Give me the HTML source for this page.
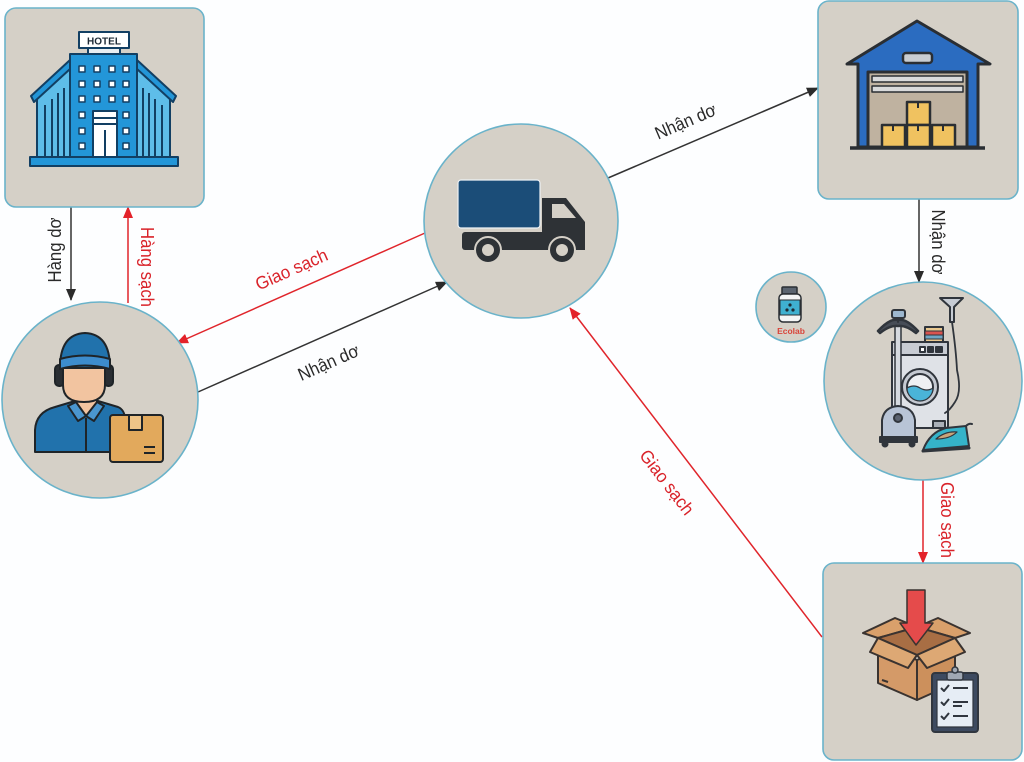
<!DOCTYPE html>
<html><head><meta charset="utf-8"><style>
html,body{margin:0;padding:0;background:#fdfeff;}
svg{display:block}
text{font-family:"Liberation Sans",Arial,sans-serif;}
</style></head><body>
<svg width="1024" height="762" viewBox="0 0 1024 762" xmlns="http://www.w3.org/2000/svg">
<defs>
<marker id="ab" markerWidth="12" markerHeight="10" refX="11" refY="5" orient="auto" markerUnits="userSpaceOnUse"><path d="M0,0 L12,5 L0,10 Z" fill="#2b2b2b"/></marker>
<marker id="ar" markerWidth="12" markerHeight="10" refX="11" refY="5" orient="auto" markerUnits="userSpaceOnUse"><path d="M0,0 L12,5 L0,10 Z" fill="#e3222a"/></marker>
</defs>
<rect width="1024" height="762" fill="#fdfeff"/>

<!-- connectors -->
<g fill="none" stroke-width="1.5">
<line x1="71" y1="207" x2="71" y2="300" stroke="#333" marker-end="url(#ab)"/>
<line x1="128" y1="303" x2="128" y2="207" stroke="#e0252b" marker-end="url(#ar)"/>
<line x1="425" y1="233" x2="177" y2="343" stroke="#e0252b" marker-end="url(#ar)"/>
<line x1="198" y1="392" x2="447" y2="282" stroke="#333" marker-end="url(#ab)"/>
<line x1="608" y1="178" x2="818" y2="88" stroke="#333" marker-end="url(#ab)"/>
<line x1="919" y1="199" x2="919" y2="282" stroke="#333" marker-end="url(#ab)"/>
<line x1="923" y1="480" x2="923" y2="563" stroke="#e0252b" marker-end="url(#ar)"/>
<line x1="822" y1="637" x2="570" y2="308" stroke="#e0252b" marker-end="url(#ar)"/>
</g>

<!-- labels -->
<g font-size="18" text-anchor="middle">
<text transform="translate(61,250) rotate(-90)" fill="#2a2a2a" textLength="65" lengthAdjust="spacingAndGlyphs">Hàng dơ</text>
<text transform="translate(141,267) rotate(90)" fill="#d9232a" textLength="80" lengthAdjust="spacingAndGlyphs">Hàng sạch</text>
<text transform="translate(294,275) rotate(-23.9)" fill="#d9232a" textLength="77" lengthAdjust="spacingAndGlyphs">Giao sạch</text>
<text transform="translate(331,368) rotate(-23.7)" fill="#2a2a2a" textLength="65" lengthAdjust="spacingAndGlyphs">Nhận dơ</text>
<text transform="translate(688,127) rotate(-23.2)" fill="#2a2a2a" textLength="65" lengthAdjust="spacingAndGlyphs">Nhận dơ</text>
<text transform="translate(932,242) rotate(90)" fill="#2a2a2a" textLength="65" lengthAdjust="spacingAndGlyphs">Nhận dơ</text>
<text transform="translate(941,520) rotate(90)" fill="#d9232a" textLength="76" lengthAdjust="spacingAndGlyphs">Giao sạch</text>
<text transform="translate(662,486) rotate(52.5)" fill="#d9232a" textLength="77" lengthAdjust="spacingAndGlyphs">Giao sạch</text>
</g>

<!-- nodes -->
<g fill="#d5d0c7" stroke="#6ab3ca" stroke-width="1.6">
<rect x="5" y="8" width="199" height="199" rx="11"/>
<rect x="818" y="1" width="200" height="198" rx="11"/>
<rect x="823" y="563" width="199" height="197" rx="11"/>
<circle cx="100" cy="400" r="98"/>
<circle cx="521" cy="221" r="97"/>
<circle cx="923" cy="381" r="99"/>
<circle cx="791" cy="307" r="35"/>
</g>

<!-- HOTEL icon -->
<g stroke="#123f63" stroke-width="2" stroke-linejoin="round">
<polygon points="70,66 37,97 37,158 70,158" fill="#5ebde9"/>
<polygon points="137,66 170,97 170,158 137,158" fill="#5ebde9"/>
<polygon points="70,60 31,96 34,102 70,69" fill="#2396d8"/>
<polygon points="137,60 176,96 173,102 137,69" fill="#2396d8"/>
<g stroke-width="2">
<line x1="45" y1="105" x2="45" y2="156"/><line x1="52" y1="99" x2="52" y2="156"/><line x1="58" y1="93" x2="58" y2="156"/><line x1="64" y1="88" x2="64" y2="156"/>
<line x1="162" y1="105" x2="162" y2="156"/><line x1="155" y1="99" x2="155" y2="156"/><line x1="149" y1="93" x2="149" y2="156"/><line x1="143" y1="88" x2="143" y2="156"/>
</g>
<rect x="70" y="54" width="67" height="104" fill="#2396d8"/>
<g fill="#fff" stroke-width="1.5">
<rect x="79" y="66" width="6" height="6"/><rect x="94" y="66" width="6" height="6"/><rect x="109" y="66" width="6" height="6"/><rect x="123" y="66" width="6" height="6"/>
<rect x="79" y="81" width="6" height="6"/><rect x="94" y="81" width="6" height="6"/><rect x="109" y="81" width="6" height="6"/><rect x="123" y="81" width="6" height="6"/>
<rect x="79" y="96" width="6" height="6"/><rect x="94" y="96" width="6" height="6"/><rect x="109" y="96" width="6" height="6"/><rect x="123" y="96" width="6" height="6"/>
<rect x="79" y="112" width="6" height="6"/><rect x="123" y="112" width="6" height="6"/>
<rect x="79" y="128" width="6" height="6"/><rect x="123" y="128" width="6" height="6"/>
<rect x="79" y="143" width="6" height="6"/><rect x="123" y="143" width="6" height="6"/>
</g>
<rect x="93" y="111" width="24" height="47" fill="#fff"/>
<line x1="93" y1="118" x2="117" y2="118"/>
<line x1="93" y1="124" x2="117" y2="124"/>
<line x1="105" y1="130" x2="105" y2="158"/>
<rect x="30" y="157" width="148" height="9" fill="#2396d8"/>
<rect x="88" y="47" width="32" height="7" fill="#e8eef2"/>
<rect x="79" y="32" width="50" height="16" fill="#fff"/>
</g>
<text x="104" y="44.5" font-size="10" font-weight="bold" text-anchor="middle" fill="#1d2a36">HOTEL</text>

<!-- WORKER icon -->
<g stroke="#1f2428" stroke-width="2" stroke-linejoin="round">
<path d="M35,452 L35,430 Q36,412 55,407 L75,401 L98,401 L118,407 Q125,410 125,420 L125,452 Z" fill="#2172ac"/>
<path d="M76,397 L76,405 L86,416 L97,405 L97,397 Z" fill="#f2c4a0"/>
<path d="M68,406 L76,402 L86,416 L78,421 Z" fill="#4a96cf"/>
<path d="M104,406 L97,402 L86,416 L94,421 Z" fill="#4a96cf"/>
<line x1="86" y1="418" x2="86" y2="451"/>
<rect x="55" y="365" width="9" height="21" rx="4" fill="#2a2e33"/>
<rect x="104" y="365" width="9" height="21" rx="4" fill="#2a2e33"/>
<path d="M63,368 L105,368 L105,385 Q105,402 84,402 Q63,402 63,385 Z" fill="#f2c4a0"/>
<path d="M60,368 Q60,334 85,333 Q110,334 110,368 Z" fill="#2172ac"/>
<path d="M60,359 Q85,352 110,359 L110,369 Q85,362 60,369 Z" fill="#3d8ccc"/>
<rect x="110" y="415" width="53" height="47" rx="3" fill="#e2a95c"/>
<rect x="129" y="415" width="13" height="15" fill="#eec488"/>
<line x1="144" y1="447" x2="155" y2="447"/>
<line x1="144" y1="453" x2="155" y2="453"/>
</g>

<!-- TRUCK icon -->
<g>
<rect x="458" y="180" width="82" height="48" rx="3" fill="#1b4d78" stroke="#eef2f5" stroke-width="1.2"/>
<path d="M542,198 L566,198 L585,222 L585,250 L542,250 Z" fill="#2e3236"/>
<polygon points="552,204 564,204 576,218 552,218" fill="#d5d0c7"/>
<rect x="462" y="232" width="123" height="18" rx="3" fill="#2e3236"/>
<circle cx="488" cy="250" r="13" fill="#2e3236" stroke="#d5d0c7" stroke-width="2"/>
<circle cx="488" cy="250" r="6" fill="#d5d0c7"/>
<circle cx="562" cy="250" r="13" fill="#2e3236" stroke="#d5d0c7" stroke-width="2"/>
<circle cx="562" cy="250" r="6" fill="#d5d0c7"/>
</g>

<!-- WAREHOUSE icon -->
<g stroke="#2a2e33" stroke-width="3" stroke-linejoin="round">
<polygon points="847,64 917,21 990,64 978,64 978,147 858,147 858,64" fill="#2b6cc0"/>
<rect x="868" y="72" width="99" height="75" fill="#bfb2a0"/>
<rect x="872" y="76" width="91" height="6" fill="#d9dadb" stroke-width="1.5"/>
<rect x="872" y="86" width="91" height="6" fill="#d9dadb" stroke-width="1.5"/>
<rect x="903" y="53" width="29" height="10" rx="3" fill="#c8cdd2" stroke-width="2.5"/>
<g fill="#f0c260" stroke-width="2.5">
<rect x="907" y="102" width="23" height="23"/>
<rect x="882" y="125" width="23" height="22"/>
<rect x="907" y="125" width="23" height="22"/>
<rect x="932" y="125" width="23" height="22"/>
</g>
<g stroke-width="2"><line x1="918" y1="102" x2="918" y2="108"/><line x1="893" y1="125" x2="893" y2="131"/><line x1="918" y1="125" x2="918" y2="131"/><line x1="943" y1="125" x2="943" y2="131"/></g>
<line x1="850" y1="148" x2="985" y2="148" stroke-width="3.5"/>
</g>

<!-- ECOLAB -->
<g stroke="#2a2e33" stroke-width="1.5">
<rect x="782" y="287" width="15" height="7" rx="1" fill="#5b6470"/>
<rect x="779" y="294" width="22" height="28" rx="4" fill="#f4f5f6"/>
<rect x="780" y="300" width="20" height="15" fill="#3fb0d0" stroke-width="1"/>
</g>
<g fill="#1f2a33"><circle cx="790" cy="305" r="1.6"/><circle cx="787" cy="310" r="1.6"/><circle cx="793" cy="310" r="1.6"/></g>
<text x="791" y="334" font-size="8.5" font-weight="bold" text-anchor="middle" fill="#d9443a">Ecolab</text>

<!-- LAUNDRY icon -->
<g stroke="#30353c" stroke-width="2" stroke-linejoin="round" stroke-linecap="round">
<path d="M940,298 L963,298 L954,307 L954,322 L950,322 L950,307 Z" fill="#c7ccd4"/>
<rect x="892" y="342" width="56" height="86" rx="2" fill="#dfe2e7"/>
<rect x="892" y="342" width="56" height="13" fill="#c8ccd3"/>
<rect x="920" y="347" width="5" height="5" fill="#fff"/><rect x="928" y="347" width="5" height="5" fill="#30353c"/><rect x="936" y="347" width="6" height="5" fill="#30353c"/>
<rect x="925" y="327" width="18" height="15" fill="#e9c88f"/>
<rect x="925" y="331" width="18" height="4" fill="#d9534f" stroke-width="1"/>
<rect x="925" y="335" width="18" height="4" fill="#6fa6c4" stroke-width="1"/>
<circle cx="920" cy="387" r="18" fill="#c5cad2"/>
<circle cx="920" cy="387" r="13" fill="#eef0f3"/>
<path d="M907,388 Q914,384 920,388 Q927,392 933,388 A13,13 0 0 1 907,388 Z" fill="#4ab4d8" stroke-width="1.2"/>
<path d="M952,322 Q956,350 957,370 Q962,392 955,402 Q950,410 945,413" fill="none" stroke-width="1.8"/>
<rect x="933" y="421" width="12" height="7" fill="#aab0b8"/>
<rect x="895" y="322" width="6" height="90" fill="#d5d9df" stroke-width="1.5"/>
<path d="M878,331 Q890,318 898,320 Q906,318 918,331 L916,333 Q906,325 898,326 Q890,325 880,333 Z" fill="#474d57" stroke-width="2.5"/>
<rect x="892" y="310" width="13" height="8" rx="2" fill="#9db7cf"/>
<line x1="898" y1="318" x2="898" y2="322"/>
<path d="M882,437 L882,420 Q884,407 898,406 Q913,407 915,420 L915,437 Z" fill="#b8c4d6"/>
<circle cx="898" cy="418" r="4" fill="#5a6270"/>
<rect x="880" y="437" width="37" height="5" fill="#30353c"/>
<circle cx="885" cy="444" r="2.5" fill="#30353c"/><circle cx="912" cy="444" r="2.5" fill="#30353c"/>
<path d="M923,450 Q930,432 946,428 L966,426 L969,446 L923,450 Z" fill="#35b3c9"/>
<path d="M936,439 Q945,431 957,432 Q950,439 936,439 Z" fill="#c8a47a" stroke-width="1.2"/>
<line x1="923" y1="451" x2="969" y2="448" stroke-width="3"/>
<path d="M966,426 Q969,423 972,424" fill="none"/>
</g>

<!-- DELIVERY BOX icon -->
<g stroke="#3a3330" stroke-width="2" stroke-linejoin="round">
<polygon points="878,638 863,633 895,618 917,627" fill="#d9a06b"/>
<polygon points="917,627 938,618 970,633 955,638" fill="#d9a06b"/>
<polygon points="878,638 917,627 955,638 917,655" fill="#a86e44"/>
<polygon points="878,645 917,660 917,700 878,683" fill="#d49a68"/>
<polygon points="917,660 955,645 955,683 917,700" fill="#cc905c"/>
<polygon points="878,638 917,655 908,668 870,652" fill="#dda874"/>
<polygon points="917,655 955,638 965,652 927,668" fill="#dda874"/>
<line x1="882" y1="680" x2="888" y2="682"/>
<path d="M907,590 L925,590 L925,623 L933,623 L916,645 L900,623 L907,623 Z" fill="#e54b4b" stroke-width="1.5"/>
</g>
<g stroke="#30363f" stroke-width="2" stroke-linejoin="round">
<rect x="932" y="673" width="46" height="59" rx="3" fill="#3d4a60"/>
<rect x="937" y="680" width="36" height="47" fill="#e6edf5" stroke-width="1.2"/>
<rect x="947" y="672" width="16" height="8" rx="2" fill="#a0a8b4" stroke-width="1.5"/>
<circle cx="955" cy="670" r="3" fill="#a0a8b4" stroke-width="1.5"/>
<polyline points="941,688 944,691 949,685" fill="none"/>
<polyline points="941,702 944,705 949,699" fill="none"/>
<polyline points="941,716 944,719 949,713" fill="none"/>
<line x1="953" y1="688" x2="968" y2="688"/><line x1="953" y1="702" x2="968" y2="702"/><line x1="953" y1="706" x2="962" y2="706"/><line x1="953" y1="716" x2="968" y2="716"/>
</g>
</svg>
</body></html>
